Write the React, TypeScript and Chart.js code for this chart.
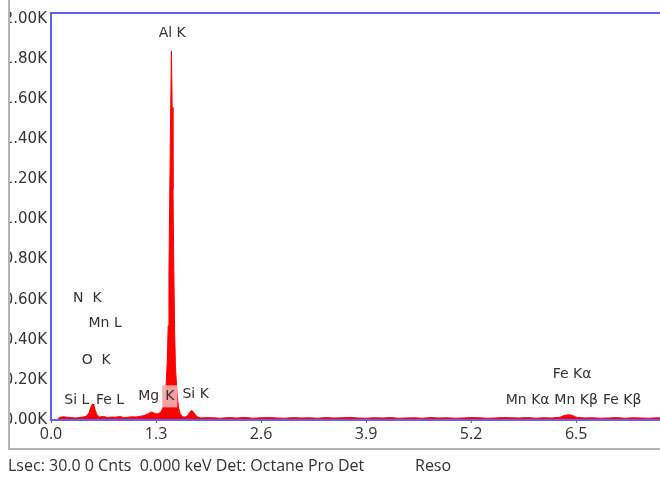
import React, { useEffect, useRef } from "react";
import { Chart, registerables } from "chart.js";

Chart.register(...registerables);

// Spectrum: energy (keV) and counts
const energy = [
  0.08, 0.10, 0.15, 0.20, 0.25, 0.30, 0.35, 0.40, 0.44, 0.47, 0.49, 0.51, 0.52, 0.53, 0.55, 0.57,
  0.60, 0.65, 0.70, 0.75, 0.80, 0.85, 0.90, 0.95, 1.00, 1.05, 1.10, 1.15, 1.20, 1.23, 1.25, 1.27,
  1.30, 1.33, 1.36, 1.38, 1.40, 1.42, 1.44, 1.45, 1.46, 1.47, 1.48, 1.49, 1.50, 1.51, 1.52, 1.53,
  1.54, 1.56, 1.58, 1.60, 1.63, 1.66, 1.69, 1.72, 1.74, 1.76, 1.79, 1.82, 1.86, 1.90,
  2.0, 2.1, 2.2, 2.3, 2.4, 2.5, 2.6, 2.7, 2.8, 2.9, 3.0, 3.1, 3.2, 3.3, 3.4, 3.5, 3.6, 3.7, 3.8,
  3.9, 4.0, 4.1, 4.2, 4.3, 4.4, 4.5, 4.6, 4.7, 4.8, 4.9, 5.0, 5.1, 5.2, 5.3, 5.4, 5.5, 5.6, 5.7,
  5.8, 5.9, 6.0, 6.1, 6.2, 6.3, 6.35, 6.4, 6.45, 6.5, 6.6, 6.7, 6.8, 6.9, 7.0, 7.1, 7.2, 7.3,
  7.4, 7.5, 7.6,
];
const counts = [
  0, 12, 16, 14, 12, 10, 12, 15, 20, 35, 60, 78, 80, 72, 45, 25,
  15, 18, 12, 15, 14, 18, 12, 14, 16, 15, 18, 22, 30, 38, 40, 36,
  30, 32, 40, 55, 80, 140, 300, 470, 740, 1120, 1500, 1840, 1560, 1150, 760, 460,
  270, 130, 60, 30, 16, 14, 22, 40, 48, 42, 24, 14, 10, 12,
  11, 9, 12, 10, 13, 9, 11, 12, 10, 9, 12, 10, 11, 9, 12, 10, 11, 13, 10,
  9, 11, 10, 12, 9, 10, 11, 9, 12, 10, 11, 9, 10, 12, 11, 9, 10, 12, 11,
  10, 12, 9, 11, 10, 14, 22, 26, 24, 14, 10, 11, 9, 10, 12, 9, 11, 10,
  9, 11, 10,
];

const xTicks = [0, 1.3, 2.6, 3.9, 5.2, 6.5];
const yTicks = [0, 200, 400, 600, 800, 1000, 1200, 1400, 1600, 1800, 2000];

// Element labels: text, energy position (keV), count position
const peakNames = ["Al K", "N  K", "Mn L", "O  K", "Si L", "Fe L", "Mg", "K", "Si K", "Fe Kα", "Mn Kα", "Mn Kβ", "Fe Kβ"];
const peakLabelEnergy = [1.50, 0.45, 0.67, 0.56, 0.32, 0.73, 1.21, 1.47, 1.79, 6.45, 5.90, 6.50, 7.07];
const peakLabelCounts = [1930, 608, 484, 296, 96, 96, 118, 118, 126, 226, 96, 96, 96];
const peakHighlighted = [false, false, false, false, false, false, false, true, false, false, false, false, false];

const BLUE = "rgb(96,96,255)";

const overlayPlugin = {
  id: "overlay",
  afterDatasetsDraw(chart: any) {
    const { ctx, chartArea: a, scales } = chart;
    ctx.save();
    ctx.font = "14px 'DejaVu Sans'";
    ctx.textAlign = "center";
    ctx.textBaseline = "middle";
    peakNames.forEach((n, i) => {
      const x = scales.x.getPixelForValue(peakLabelEnergy[i]);
      const y = scales.y.getPixelForValue(peakLabelCounts[i]);
      if (peakHighlighted[i]) {
        const w = ctx.measureText(n).width;
        ctx.fillStyle = "rgba(245,170,170,0.95)";
        ctx.fillRect(x - w / 2 - 3, y - 11, w + 6, 22);
      }
      ctx.fillStyle = "#333";
      ctx.fillText(n, x, y);
    });
    ctx.strokeStyle = BLUE;
    ctx.lineWidth = 2;
    ctx.strokeRect(a.left, a.top, a.right - a.left, a.bottom - a.top);
    ctx.restore();
  },
};

export default function App() {
  const ref = useRef<HTMLCanvasElement>(null);
  useEffect(() => {
    if (!ref.current) return;
    const chart = new Chart(ref.current, {
      type: "line",
      data: {
        datasets: [
          {
            data: energy.map((e, i) => ({ x: e, y: counts[i] })),
            borderColor: "#ff0000",
            backgroundColor: "#ff0000",
            borderWidth: 1,
            pointRadius: 0,
            fill: "origin",
            tension: 0,
          },
        ],
      },
      options: {
        responsive: false,
        animation: false,
        devicePixelRatio: 1,
        layout: { padding: { top: 12, right: 10, left: 0, bottom: 0 } },
        plugins: { legend: { display: false }, tooltip: { enabled: false } },
        scales: {
          x: {
            type: "linear",
            min: 0,
            max: 7.6,
            afterBuildTicks: (axis: any) => {
              axis.ticks = xTicks.map((v) => ({ value: v }));
            },
            afterFit: (axis: any) => {
              axis.height = 30;
            },
            ticks: {
              callback: (v: any) => Number(v).toFixed(1),
              font: { family: "'Open Sans'", size: 16 },
              color: "#333",
              padding: 2,
              maxRotation: 0,
              autoSkip: false,
            },
            grid: { drawOnChartArea: false, drawTicks: true, tickLength: 3, color: BLUE },
            border: { display: false },
          },
          y: {
            min: 0,
            max: 2030,
            afterBuildTicks: (axis: any) => {
              axis.ticks = yTicks.map((v) => ({ value: v }));
            },
            afterFit: (axis: any) => {
              axis.width = 63;
            },
            ticks: {
              callback: (v: any) => (Number(v) / 1000).toFixed(2) + "K",
              font: { family: "'DejaVu Sans'", size: 15 },
              color: "#333",
              padding: 4,
              autoSkip: false,
            },
            grid: { drawOnChartArea: false, drawTicks: false },
            border: { display: false },
          },
        },
      },
      plugins: [overlayPlugin],
    });
    return () => chart.destroy();
  }, []);

  return (
    <div
      style={{
        position: "fixed",
        left: 8,
        top: 0,
        width: 652,
        height: 478,
        overflow: "hidden",
        background: "#fff",
      }}
    >
      <canvas
        ref={ref}
        width={687}
        height={450}
        style={{ position: "absolute", left: -20, top: 0, width: 687, height: 450 }}
      />
      <div
        style={{
          position: "absolute",
          left: 0,
          top: -20,
          width: 800,
          height: 468,
          borderLeft: "2px solid #b4b4b4",
          borderBottom: "2px solid #b4b4b4",
          pointerEvents: "none",
        }}
      />
      <div
        style={{
          position: "absolute",
          left: 0,
          top: 454,
          fontFamily: "'Open Sans'",
          fontSize: 16,
          color: "#333",
          whiteSpace: "pre",
        }}
      >
        Lsec: 30.0 0 Cnts  0.000 keV Det: Octane Pro Det
      </div>
      <div
        style={{
          position: "absolute",
          left: 407,
          top: 454,
          fontFamily: "'Open Sans'",
          fontSize: 16,
          color: "#333",
        }}
      >
        Reso
      </div>
    </div>
  );
}
